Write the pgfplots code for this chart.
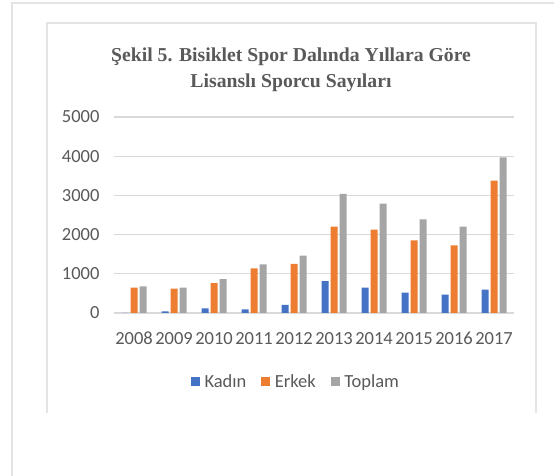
\documentclass[border=0pt]{standalone}
\usepackage{pgfplots}
\pgfplotsset{compat=1.18}
\usepackage{fontspec}
\setmainfont{Carlito}
\newfontfamily\titlefont{Liberation Serif}
\definecolor{kadin}{HTML}{4472C4}
\definecolor{erkek}{HTML}{ED7D31}
\definecolor{toplam}{HTML}{A5A5A5}
\definecolor{txt}{HTML}{595959}
\definecolor{grd}{HTML}{D9D9D9}
\definecolor{frm}{HTML}{E4E4E4}

\begin{document}
\begin{tikzpicture}[x=1bp,y=1bp]
\useasboundingbox (0,0) rectangle (554,476);
% page and chart frames
\draw[frm, line width=1.2bp] (12,0) -- (12,473) -- (554,473);
\draw[frm, line width=1.2bp] (47,63) -- (47,453) -- (536,453) -- (536,63);
\begin{axis}[
  at={(114bp,163bp)}, anchor=south west,
  scale only axis, width=400bp, height=196bp,
  ybar=2bp, bar width=7bp,
  xmin=-0.5, xmax=9.5, ymin=0, ymax=5000,
  xtick={0,...,9},
  xticklabels={2008,2009,2010,2011,2012,2013,2014,2015,2016,2017},
  ytick={0,1000,...,5000},
  axis line style={draw=none},
  major tick length=0pt,
  ymajorgrids, grid style={grd, line width=1.3bp},
  /pgf/number format/assume math mode=true,
  /pgf/number format/1000 sep={},
  tick label style={font=\fontsize{18.5bp}{20bp}\selectfont, text=txt},
  yticklabel style={xshift=-11bp},
  xticklabel style={text height=12bp, text depth=0bp, yshift=-16bp},
  title={Şekil 5. Bisiklet Spor Dalında Yıllara Göre\\Lisanslı Sporcu Sayıları},
  title style={at={(axis description cs:0.4425,1.208)}, anchor=center, align=center,
    font=\titlefont\bfseries\fontsize{19.7bp}{26bp}\selectfont, text=txt},
  legend columns=3,
  legend style={draw=none, fill=none, at={(axis description cs:0.455,-0.352)}, anchor=center,
    font=\fontsize{18.5bp}{20bp}\selectfont, text=txt,
    column sep=2.5bp,
    /tikz/every even column/.append style={column sep=13bp}},
  legend image code/.code={\fill[#1] (0bp,-4.5bp) rectangle (9bp,4.5bp);},
]
\addplot[fill=kadin, draw=none] coordinates {(0,0)(1,40)(2,120)(3,94)(4,204)(5,816)(6,646)(7,519)(8,468)(9,595)};
\addplot[fill=erkek, draw=none] coordinates {(0,650)(1,622)(2,765)(3,1140)(4,1250)(5,2202)(6,2126)(7,1854)(8,1726)(9,3376)};
\addplot[fill=toplam, draw=none] coordinates {(0,681)(1,648)(2,867)(3,1242)(4,1462)(5,3036)(6,2789)(7,2390)(8,2202)(9,3971)};
\legend{Kadın,Erkek,Toplam}
\end{axis}
\end{tikzpicture}
\end{document}
